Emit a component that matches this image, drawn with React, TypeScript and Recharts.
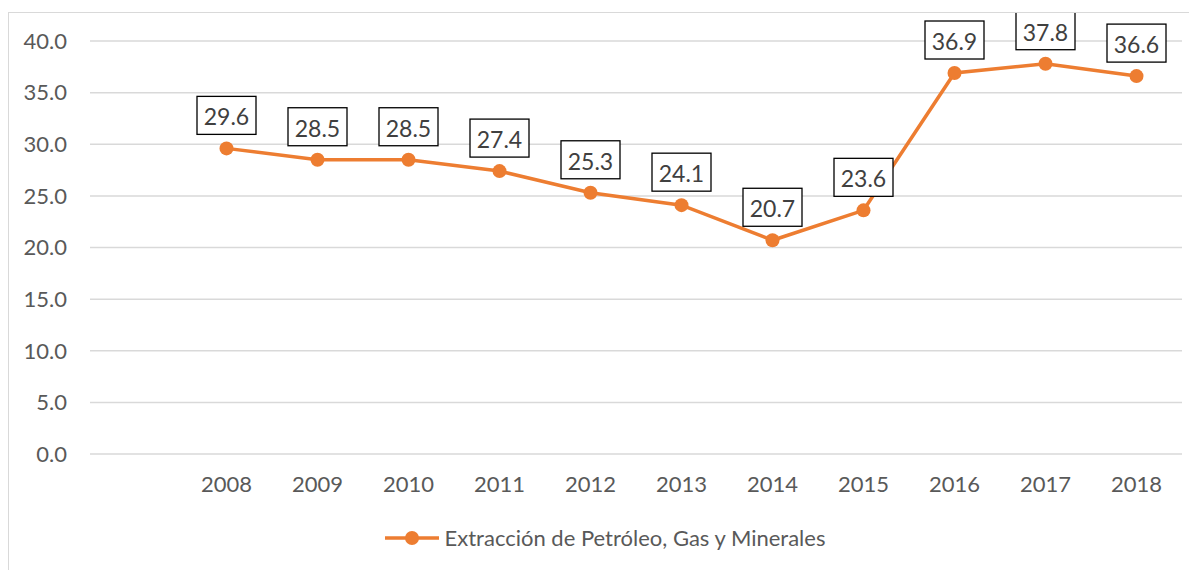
import { LineChart, Line, XAxis, YAxis, CartesianGrid, Legend, LabelList } from 'recharts'

const years = ['', '2008', '2009', '2010', '2011', '2012', '2013', '2014', '2015', '2016', '2017', '2018']
const values: (number | null)[] = [null, 29.6, 28.5, 28.5, 27.4, 25.3, 24.1, 20.7, 23.6, 36.9, 37.8, 36.6]
const yTicks = [0, 5, 10, 15, 20, 25, 30, 35, 40]
const seriesName = 'Extracción de Petróleo, Gas y Minerales'

const ORANGE = '#ED7D31'
const FONT = 'Lato, "Open Sans", sans-serif'

const chartData = years.map((year, i) => ({ year, value: values[i] }))

const BoxLabel = (props: any) => {
  const { x, y, value } = props
  if (value === null || value === undefined || x == null || y == null) return null
  const w = 59
  const h = 38
  const bottom = y - 14
  return (
    <g>
      <rect x={x - w / 2} y={bottom - h} width={w} height={h} fill="#fff" stroke="#000" strokeWidth={1.3} />
      <text
        x={x}
        y={bottom - h / 2 + 1}
        textAnchor="middle"
        dominantBaseline="central"
        fill="#404040"
        fontSize={23}
        fontFamily={FONT}
      >
        {Number(value).toFixed(1)}
      </text>
    </g>
  )
}

const LegendContent = () => (
  <div style={{ display: 'flex', justifyContent: 'center', alignItems: 'center', paddingTop: 30, paddingLeft: 18 }}>
    <svg width={56} height={16} style={{ marginRight: 5 }}>
      <line x1={1} y1={8} x2={55} y2={8} stroke={ORANGE} strokeWidth={3.5} />
      <circle cx={28} cy={8} r={7} fill={ORANGE} />
    </svg>
    <span style={{ fontFamily: FONT, fontSize: 22, color: '#595959' }}>{seriesName}</span>
  </div>
)

export default function App() {
  return (
    <div style={{ paddingTop: 4 }}>
      <div
        style={{
          width: 1189,
          height: 558,
          borderLeft: '1px solid #d9d9d9',
          borderTop: '1px solid #d9d9d9',
          overflow: 'hidden',
        }}
      >
        <LineChart
          width={1188}
          height={557}
          data={chartData}
          margin={{ top: 28, right: 15, left: 0, bottom: 0 }}
          style={{ overflow: 'visible' }}
        >
          <CartesianGrid horizontal vertical={false} stroke="#d9d9d9" strokeWidth={1.5} />
          <XAxis
            dataKey="year"
            scale="band"
            axisLine={false}
            tickLine={false}
            tickSize={0}
            tickMargin={22}
            height={40}
            interval={0}
            tick={{ fill: '#595959', fontSize: 22, fontFamily: FONT }}
          />
          <YAxis
            domain={[0, 40]}
            ticks={yTicks}
            width={81}
            axisLine={false}
            tickLine={false}
            tickSize={0}
            tickMargin={23}
            tickFormatter={(v: number) => v.toFixed(1)}
            tick={{ fill: '#595959', fontSize: 22, fontFamily: FONT }}
          />
          <Legend verticalAlign="bottom" height={76} content={<LegendContent />} />
          <Line
            type="linear"
            dataKey="value"
            name={seriesName}
            stroke={ORANGE}
            strokeWidth={3.5}
            dot={{ r: 7, fill: ORANGE, stroke: ORANGE, strokeWidth: 0 }}
            activeDot={false}
            connectNulls
            isAnimationActive={false}
          >
            <LabelList dataKey="value" content={<BoxLabel />} />
          </Line>
        </LineChart>
      </div>
    </div>
  )
}
